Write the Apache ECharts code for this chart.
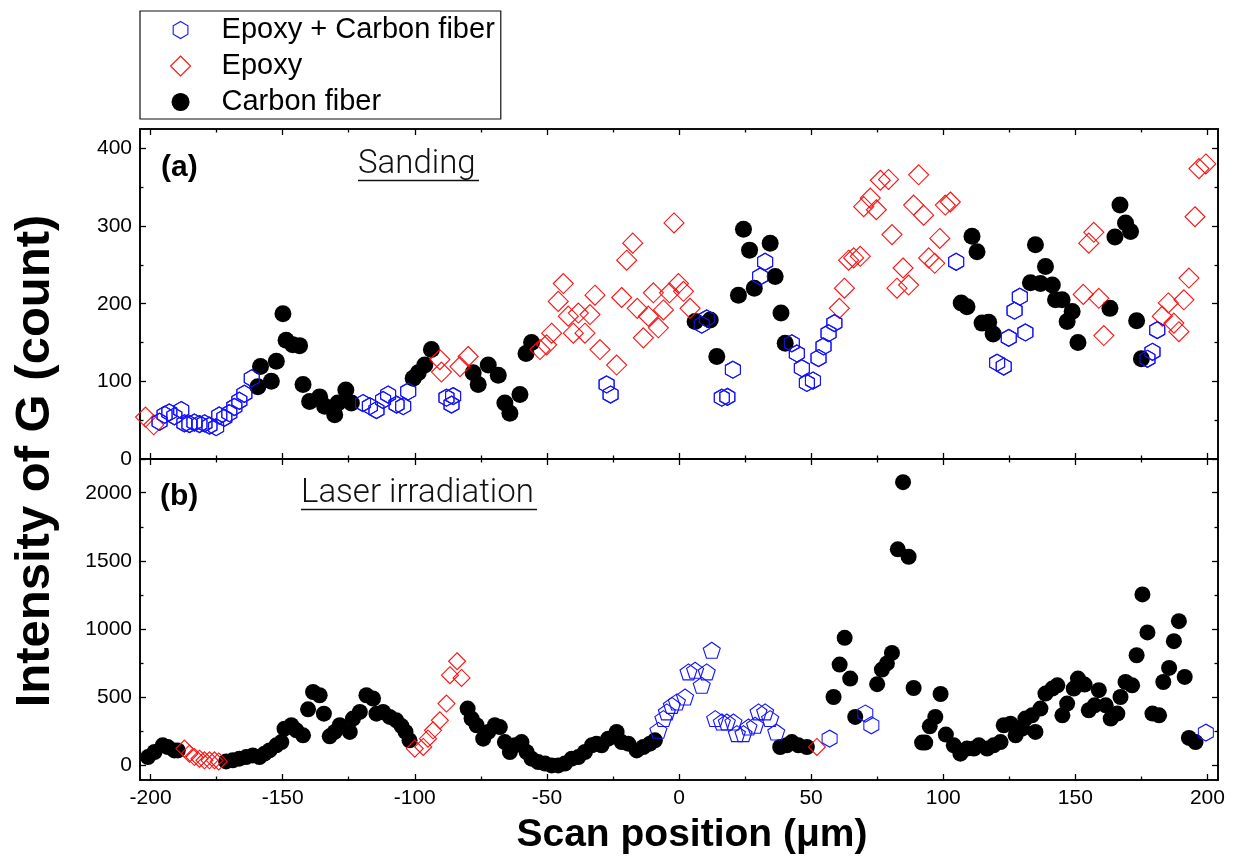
<!DOCTYPE html>
<html>
<head>
<meta charset="utf-8">
<title>Intensity of G along the scan</title>
<script src="https://cdn.jsdelivr.net/npm/echarts@6/dist/echarts.min.js"></script>
<style>
  html, body { margin: 0; padding: 0; background: #fff; }
  #chart { width: 1233px; height: 867px; }
</style>
</head>
<body>
<div id="chart"></div>
<script>
// ---- tick values ----
const xMajorTicks = [-200, -150, -100, -50, 0, 50, 100, 150, 200];
const xMinorTicks = [-175, -125, -75, -25, 25, 75, 125, 175];
const yTopMajor = [0, 100, 200, 300, 400];
const yTopMinor = [50, 150, 250, 350];
const yBotMajor = [0, 500, 1000, 1500, 2000];
const yBotMinor = [250, 750, 1250, 1750];

// ---- (a) Sanding: [scan position (µm), intensity (count)] ----
const sandCarbon = [
  [-159.4,93],[-158.4,119],[-154.3,100],[-152.4,126],[-149.9,187],[-148.7,153],[-146.2,147],[-143.6,146],
  [-142.3,96],[-139.8,74],[-136,80],[-134.1,68],[-130.3,57],[-129.1,72],[-126.1,89],[-124,72],
  [-100.6,104],[-98.7,111],[-96.2,121],[-93.7,141],
  [-77.9,111],[-76,96],[-72.2,121],[-68.4,108],[-65.9,72],[-64,59],[-60.2,83],[-57.9,136],[-55.8,150],
  [6.1,177],[11.8,179],[14.3,132],[22.5,211],[24.4,296],[26.7,269],[28.5,220],[34.5,278],[36.4,235],
  [38.6,188],[40.2,149],
  [106.8,201],[109,196],[110.9,287],[112.8,267],[114.7,175],[117.2,176],[118.9,161],
  [133,227],[134.9,276],[136.8,226],[138.7,248],[141.3,224],[142.5,205],[145,205],[146.9,177],[148.8,190],[151,150],
  [163.1,194],[165,286],[166.9,327],[169,304],[170.9,293],[173.2,178],[175,129]
];
const sandEpoxy = [
  [-201.9,54],[-198.8,44],
  [-90.5,128],[-89.9,112],[-82.9,119],[-79.8,132],
  [-52.6,141],[-50.1,147],[-48.2,162],[-45.7,203],[-43.8,226],[-41.9,184],[-40,162],[-38.1,188],
  [-35.6,162],[-33.7,186],[-31.8,211],[-29.9,141],[-23.6,121],[-21.7,208],[-19.8,256],[-17.5,278],
  [-15.8,194],[-13.5,156],[-11.6,184],[-9.7,214],[-7.8,169],[-5.9,192],[-3.6,214],[-1.9,304],
  [-0.2,226],[1.7,216],[4.2,194],
  [60.7,194],[62.6,220],[64.2,256],[66.1,259],[68.6,261],[69.9,325],[72.4,336],[74.7,321],[76.2,359],
  [79.3,360],[80.6,289],[82.5,220],[84.8,246],[86.9,224],[88.8,327],[90.7,366],[92.6,314],[94.5,259],
  [96.8,252],[98.7,284],[100.8,327],[102.7,331],
  [153,212],[155.1,278],[157,292],[158.9,207],[160.8,159],
  [182.9,184],[185.2,201],[187.3,175],[189.2,164],[191.1,205],[193,233],[195.3,312],[196.8,374],[199.4,380]
];
const sandHybrid = [
  [-196.6,48],[-194.7,57],[-192.9,60],[-191,55],[-188.4,63],[-187.2,46],[-185.3,45],[-183.4,47],
  [-181.5,45],[-179.6,46],[-177.7,43],[-175.2,41],[-174,56],[-172.1,53],[-170.2,59],[-168.3,67],
  [-166.4,75],[-164.5,84],[-161.7,104],
  [-119.6,72],[-117,68],[-114.5,63],[-112,76],[-110.1,83],[-106.9,70],[-104.4,68],[-102.5,87],
  [-88,79],[-85.5,81],[-86.1,70],
  [-27.4,96],[-25.9,83],
  [8.6,173],[10.5,181],[16.2,79],[18.3,80],[20.4,115],[30.7,235],[32.6,254],
  [42.7,149],[44.6,136],[46.5,117],[48.4,98],[50.7,101],[52.8,130],[54.7,145],[56.6,162],[58.8,175],
  [104.9,254],[120.4,124],[122.9,119],[124.8,156],[127,191],[129,209],[131.1,163],
  [177.3,129],[179.2,138],[181,166]
];

// ---- (b) Laser irradiation ----
const laserCarbon = [
  [-201,63],[-198.5,100],[-195.4,149],[-193.5,136],[-191,112],[-189.7,112],
  [-171.4,31],[-168.9,39],[-166.4,51],[-163.8,63],[-161.3,75],[-158.8,63],[-156.9,88],[-155,112],
  [-152.4,149],[-150.5,173],[-149.3,271],[-146.7,296],[-144.8,259],[-142.3,222],[-140.4,413],
  [-138.5,540],[-136,516],[-134.4,381],[-132.2,215],[-130.3,247],[-128.4,296],[-124.6,247],
  [-123.4,345],[-120.8,394],[-118.3,516],[-115.8,492],[-114.5,381],[-112,394],[-109.5,357],
  [-107,332],[-105,290],[-103.5,247],[-102,186],
  [-80,418],[-78.5,345],[-76.6,296],[-74.1,198],[-72.2,247],[-69.7,296],[-67.8,283],[-65.9,173],
  [-64,100],[-62.1,149],[-59.6,173],[-57.7,100],[-55.8,51],[-53.3,26],[-50.7,15],[-48.2,2],
  [-45.7,2],[-43.2,15],[-40.6,51],[-38.1,63],[-35.6,100],[-33,149],[-31.2,161],[-29.3,149],
  [-26.8,198],[-23.6,247],[-21.7,173],[-19.2,161],[-16,112],[-13.5,137],[-11,161],[-9.1,186],
  [38.3,137],[40.8,149],[42.7,173],[45.2,149],[48.4,137],
  [58.5,503],[60.8,741],[62.7,937],[64.8,638],[66.7,357],
  [75,597],[76.8,704],[78.7,749],[80.6,826],[82.8,1585],[84.8,2077],[86.9,1531],[88.8,569],
  [92,169],[93.2,169],[94.9,288],[97,357],[99,525],[101,228],
  [104,149],[106.5,88],[109,125],[111.6,125],[113.5,149],[116.6,125],[119.1,149],[121.7,173],
  [122.9,296],[125.5,308],[127.4,222],[129.9,271],[131.1,345],[133.6,369],[134.9,247],[136.8,418],
  [138.7,528],[141.3,565],[143.2,589],[145.1,369],[146.9,455],[149.4,565],[151,638],[153.5,594],
  [155.1,406],[157.3,442],[158.9,553],[161.5,442],[163.4,345],[165.9,382],[167.1,503],[169,613],
  [171.5,589],[173.2,809],[175.4,1255],[177.3,976],[179.2,382],[181.7,369],[183.3,613],[185.5,716],
  [187.3,912],[189.2,1059],[191.4,650],[193,203],[195.5,173]
];
const laserEpoxy = [
  [-187.2,125],[-185.3,88],[-183.4,63],[-181.5,51],[-179.6,39],[-177.7,39],[-175.8,39],[-174.2,31],
  [-100,125],[-96.8,137],[-95,198],[-93.1,259],[-90.5,332],[-88,455],[-86.7,663],[-84,765],[-82.3,643],
  [52.2,137]
];
const laserHybridPent = [
  [-7.8,259],[-5.9,345],[-4.6,394],[-2.7,442],[-0.8,467],[2.3,503],[3.6,687],[6.1,699],[8.6,589],
  [10.5,687],[12.4,846],[13.7,345],[16.2,320],[18.1,320],[20.6,320],[21.9,235],[24.4,235],[26.3,283],
  [28.8,296],[30.1,394],[32.6,394],[34.5,345],[36.8,247]
];
const laserHybridHex = [[57,198],[70.5,382],[72.8,296],[199.4,242]];

// ---- styling ----
const FONT = '"Liberation Sans", Arial, Helvetica, sans-serif';
const HEX = 'path://M0,-10L8.66,-5L8.66,5L0,10L-8.66,5L-8.66,-5Z';
const PENT = 'path://M0,-10L9.51,-3.09L5.88,8.09L-5.88,8.09L-9.51,-3.09Z';
const DIAMOND = 'path://M0,-10L10,0L0,10L-10,0Z';
// legend icons: the leading moves widen the icon box so the glyph sits centred in it
const LEG_PAD = 'M-36,-10M36,10';
const LEG_HEX = 'path://' + LEG_PAD + 'M0,-8.5L7.36,-4.25L7.36,4.25L0,8.5L-7.36,4.25L-7.36,-4.25Z';
const LEG_DIAMOND = 'path://' + LEG_PAD + 'M0,-10L10,0L0,10L-10,0Z';
const LEG_CIRCLE = 'path://' + LEG_PAD + 'M-8.5,0A8.5,8.5,0,1,0,8.5,0A8.5,8.5,0,1,0,-8.5,0Z';
const BLUE = '#1414ff';
const RED = '#ff1010';
const CLEAR = 'rgba(0,0,0,0)';

function axisBase(gridIndex, position, min, max, ticks, tickLen, labels) {
  const ax = {
    type: 'value', gridIndex, position, min, max,
    axisLine: { show: true, onZero: false, lineStyle: { color: '#000', width: 1.6 } },
    axisTick: { show: true, inside: true, length: tickLen, customValues: ticks,
                lineStyle: { color: '#000', width: 1.3 } },
    axisLabel: { show: false },
    splitLine: { show: false },
    silent: true
  };
  if (labels) {
    ax.axisLabel = { show: true, customValues: labels, fontFamily: FONT, fontSize: 21,
                     color: '#000', margin: 8, formatter: v => String(v) };
  }
  return ax;
}

const X_MIN = -204, X_MAX = 204;
const xAxis = [];
const yAxis = [];
// grid 0 (top panel): axis 0 is the data axis
xAxis.push(axisBase(0, 'bottom', X_MIN, X_MAX, xMajorTicks, 6, null));
xAxis.push(axisBase(0, 'bottom', X_MIN, X_MAX, xMinorTicks, 3.5, null));
xAxis.push(axisBase(0, 'top', X_MIN, X_MAX, xMajorTicks, 6, null));
xAxis.push(axisBase(0, 'top', X_MIN, X_MAX, xMinorTicks, 3.5, null));
// grid 1 (bottom panel): axis 4 is the data axis
xAxis.push(axisBase(1, 'bottom', X_MIN, X_MAX, xMajorTicks, 6, xMajorTicks));
xAxis.push(axisBase(1, 'bottom', X_MIN, X_MAX, xMinorTicks, 3.5, null));
xAxis.push(axisBase(1, 'top', X_MIN, X_MAX, xMajorTicks, 6, null));
xAxis.push(axisBase(1, 'top', X_MIN, X_MAX, xMinorTicks, 3.5, null));

const TOP_MIN = 0, TOP_MAX = 425, BOT_MIN = -105, BOT_MAX = 2247;
yAxis.push(axisBase(0, 'left', TOP_MIN, TOP_MAX, yTopMajor, 6, yTopMajor));
yAxis.push(axisBase(0, 'left', TOP_MIN, TOP_MAX, yTopMinor, 3.5, null));
yAxis.push(axisBase(0, 'right', TOP_MIN, TOP_MAX, yTopMajor, 6, null));
yAxis.push(axisBase(0, 'right', TOP_MIN, TOP_MAX, yTopMinor, 3.5, null));
yAxis.push(axisBase(1, 'left', BOT_MIN, BOT_MAX, yBotMajor, 6, yBotMajor));
yAxis.push(axisBase(1, 'left', BOT_MIN, BOT_MAX, yBotMinor, 3.5, null));
yAxis.push(axisBase(1, 'right', BOT_MIN, BOT_MAX, yBotMajor, 6, null));
yAxis.push(axisBase(1, 'right', BOT_MIN, BOT_MAX, yBotMinor, 3.5, null));

function scatter(name, data, panel, symbol, size, hollowColor) {
  const s = {
    type: 'scatter', name, data,
    xAxisIndex: panel === 0 ? 0 : 4,
    yAxisIndex: panel === 0 ? 0 : 4,
    symbol, symbolSize: size,
    silent: true,
    emphasis: { disabled: true }
  };
  if (hollowColor) {
    s.itemStyle = { color: CLEAR, borderColor: hollowColor, borderWidth: 1.1, opacity: 1 };
  } else {
    s.itemStyle = { color: '#000', borderColor: '#000', borderWidth: 0, opacity: 1 };
  }
  return s;
}

const series = [
  scatter('Epoxy + Carbon fiber', sandHybrid, 0, HEX, [15, 17], BLUE),
  scatter('Carbon fiber', sandCarbon, 0, 'circle', 17, null),
  scatter('Epoxy', sandEpoxy, 0, DIAMOND, 20, RED),
  scatter('Epoxy + Carbon fiber', sandHybrid, 0, HEX, [15, 17], BLUE),
  scatter('Carbon fiber', laserCarbon, 1, 'circle', 16, null),
  scatter('Epoxy', laserEpoxy, 1, DIAMOND, 17, RED),
  scatter('Epoxy + Carbon fiber', laserHybridPent, 1, PENT, [17, 16], BLUE),
  scatter('Epoxy + Carbon fiber', laserHybridHex, 1, HEX, [15, 17], BLUE)
];

const option = {
  animation: false,
  backgroundColor: '#fff',
  grid: [
    { left: 140, right: 15, top: 129, height: 330, containLabel: false },
    { left: 140, right: 15, top: 459, height: 321, containLabel: false }
  ],
  xAxis, yAxis, series,
  legend: {
    orient: 'vertical', left: 140, top: 11,
    padding: [4, 6, 2, 4],
    itemWidth: 72, itemHeight: 20, itemGap: 6,
    borderColor: '#111', borderWidth: 1.2, borderRadius: 0,
    backgroundColor: '#fff',
    selectedMode: false,
    itemStyle: { borderWidth: 1.1 },
    textStyle: { fontFamily: FONT, fontSize: 29, color: '#000', lineHeight: 30 },
    data: [
      { name: 'Epoxy + Carbon fiber', icon: LEG_HEX },
      { name: 'Epoxy', icon: LEG_DIAMOND },
      { name: 'Carbon fiber', icon: LEG_CIRCLE }
    ]
  },
  graphic: [
    { type: 'text', x: 161, y: 168, style: { text: '(a)', font: 'bold 30px ' + FONT, fill: '#000',
      textAlign: 'left', textVerticalAlign: 'middle', align: 'left', verticalAlign: 'middle' } },
    { type: 'text', x: 358, y: 165, style: { text: 'Sanding', font: '300 33px Roboto, ' + FONT, fill: '#111',
      textAlign: 'left', textVerticalAlign: 'middle', align: 'left', verticalAlign: 'middle' } },
    { type: 'line', shape: { x1: 358, y1: 180.5, x2: 479, y2: 180.5 }, style: { stroke: '#111', lineWidth: 1.3 } },
    { type: 'text', x: 160, y: 497, style: { text: '(b)', font: 'bold 30px ' + FONT, fill: '#000',
      textAlign: 'left', textVerticalAlign: 'middle', align: 'left', verticalAlign: 'middle' } },
    { type: 'text', x: 301, y: 494, style: { text: 'Laser irradiation', font: '300 33px Roboto, ' + FONT, fill: '#111',
      textAlign: 'left', textVerticalAlign: 'middle', align: 'left', verticalAlign: 'middle' } },
    { type: 'line', shape: { x1: 301, y1: 509.5, x2: 537, y2: 509.5 }, style: { stroke: '#111', lineWidth: 1.3 } },
    { type: 'text', x: 35, y: 461, rotation: Math.PI / 2,
      style: { text: 'Intensity of G (count)', font: 'bold 49px ' + FONT, fill: '#000',
      textAlign: 'center', textVerticalAlign: 'middle', align: 'center', verticalAlign: 'middle' } },
    { type: 'text', x: 692, y: 835,
      style: { text: 'Scan position (\u03bcm)', font: 'bold 39px ' + FONT, fill: '#000',
      textAlign: 'center', textVerticalAlign: 'middle', align: 'center', verticalAlign: 'middle' } }
  ]
};

const chart = echarts.init(document.getElementById('chart'), null, { renderer: 'canvas' });
chart.setOption(option);
</script>
</body>
</html>
